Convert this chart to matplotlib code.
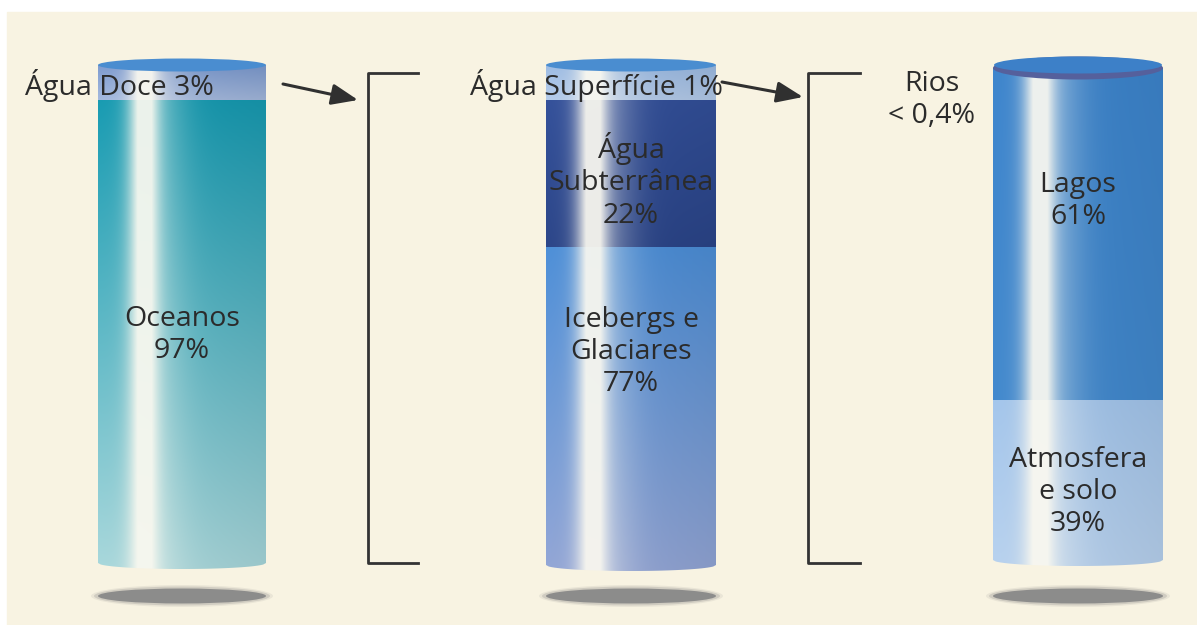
import numpy as np
import matplotlib.pyplot as plt
from matplotlib.patches import Ellipse, Polygon, Rectangle
from matplotlib.colors import to_rgb

plt.rcParams['font.family'] = ['Open Sans', 'DejaVu Sans']

# dados (%)
ocean_labels = ['Água Doce', 'Oceanos']
ocean_values = [3, 97]
fresh_labels = ['Água Superfície', 'Água\nSubterrânea', 'Icebergs e\nGlaciares']
fresh_values = [1, 22, 77]
surface_labels = ['Rios', 'Lagos', 'Atmosfera\ne solo']
surface_values = [0.4, 61, 39]


def pct(v):
    return f'{v:g}'.replace('.', ',') + '%'


# layout (pixels)
W, H = 1197, 625
BG = '#f8f3e2'
TXT = '#2b2b2b'
cyl_x = [(98, 266), (546, 716), (993, 1163)]
# limites verticais dos segmentos de cada cilindro
cyl_bounds = [[65, 100, 563], [65, 100, 247, 565], [68, 400, 560]]
cyl_colors = [
    [('#7d9bd0', '#a4b9de'), ('#179bb2', '#a9d8dc')],
    [('#9dbce4', '#b4cbea'), ('#33509a', '#2b4589'), ('#4d8fd8', '#93a6d6')],
    [('#3d85cd', '#4289ce'), ('#a4c6ec', '#b8d2ef')],
]
label_y = [[None, 335], [None, 181, 352], [None, 201, 492]]


def shade(c_top, c_bot, w, h):
    u = np.linspace(0, 1, w)[None, :, None]
    v = np.linspace(0, 1, h)[:, None, None]
    base = (1 - v) * np.array(to_rgb(c_top)) + v * np.array(to_rgb(c_bot))
    base = base * (1 - 0.08 * u)
    hl = 0.85 * np.exp(-((u - 0.27) / 0.09) ** 2) + 0.3 * np.exp(-((u - 0.35) / 0.18) ** 2)
    hl = np.clip(hl, 0, 0.93)
    white = np.array(to_rgb('#fbf9f0'))
    img = base * (1 - hl) + white * hl
    return np.clip(img, 0, 1)


fig = plt.figure(figsize=(W / 100, H / 100), dpi=100)
fig.patch.set_facecolor('white')
ax = fig.add_axes([0, 0, 1, 1])
ax.add_patch(Rectangle((7, 12), W - 7, H - 12, color=BG, zorder=0))

for (x0, x1), bounds, cols in zip(cyl_x, cyl_bounds, cyl_colors):
    cx, w = (x0 + x1) / 2, x1 - x0
    ybot = bounds[-1]
    # contorno do cilindro
    xs = np.linspace(x1, x0, 60)
    arc = ybot + 6 * np.sqrt(np.clip(1 - ((xs - cx) / (w / 2)) ** 2, 0, 1))
    outline = [(x0, bounds[0]), (x1, bounds[0])] + list(zip(xs, arc))
    clip = Polygon(outline, closed=True, transform=ax.transData, fc='none', ec='none')
    ax.add_patch(clip)
    for i, (ct, cb) in enumerate(cols):
        ya, yb = bounds[i], bounds[i + 1]
        if i == len(cols) - 1:
            yb += 7
        img = shade(ct, cb, int(w), int(yb - ya))
        im = ax.imshow(img, extent=(x0, x1, yb, ya), origin='upper',
                       aspect='auto', zorder=2, interpolation='bilinear')
        im.set_clip_path(clip)
    # sombra
    for k, a in [(14, 0.12), (8, 0.25), (0, 0.9)]:
        ax.add_patch(Ellipse((cx, 596), w + k, 15 + k / 2, color='#858585',
                             alpha=a, lw=0, zorder=1))

# tampas
for (x0, x1) in cyl_x[:2]:
    ax.add_patch(Ellipse(((x0 + x1) / 2, 65), x1 - x0, 13, color='#4a8dd0', lw=0, zorder=3))
x0, x1 = cyl_x[2]
ax.add_patch(Ellipse(((x0 + x1) / 2, 68), x1 - x0, 23, color='#55609c', lw=0, zorder=3))
ax.add_patch(Ellipse(((x0 + x1) / 2, 65), x1 - x0 - 2, 17, color='#3d80c8', lw=0, zorder=3))

# textos
fs = 20.5
ls = 1.2
ax.text(25, 85, f'{ocean_labels[0]} {pct(ocean_values[0])}', fontsize=fs,
        color=TXT, ha='left', va='center', zorder=5)
ax.text(470, 85, f'{fresh_labels[0]} {pct(fresh_values[0])}', fontsize=fs,
        color=TXT, ha='left', va='center', zorder=5)
ax.text(932, 100, f'{surface_labels[0]}\n< {pct(surface_values[0])}', fontsize=fs,
        color=TXT, ha='center', va='center', linespacing=ls, zorder=5)

groups = [(ocean_labels, ocean_values), (fresh_labels, fresh_values),
          (surface_labels, surface_values)]
for (x0, x1), (labs, vals), ys in zip(cyl_x, groups, label_y):
    for lab, val, y in zip(labs, vals, ys):
        if y is None:
            continue
        ax.text((x0 + x1) / 2, y, f'{lab}\n{pct(val)}', fontsize=fs, color=TXT,
                ha='center', va='center', linespacing=ls, zorder=5)

# setas e colchetes
arrow = dict(arrowstyle='-|>,head_length=1.0,head_width=0.4', color='#303030',
             lw=2.2, mutation_scale=16, shrinkA=0, shrinkB=0)
ax.annotate('', xy=(358, 100), xytext=(283, 84), arrowprops=arrow, zorder=5)
ax.annotate('', xy=(803, 97), xytext=(722, 82), arrowprops=arrow, zorder=5)
for bx, bx2 in [(368, 418), (808, 860)]:
    ax.plot([bx2, bx, bx, bx2], [73, 73, 563, 563], color='#333333', lw=2, zorder=5)

ax.set_xlim(0, W)
ax.set_ylim(H, 0)
ax.axis('off')
fig.savefig('out.png', dpi=100, facecolor='white')
